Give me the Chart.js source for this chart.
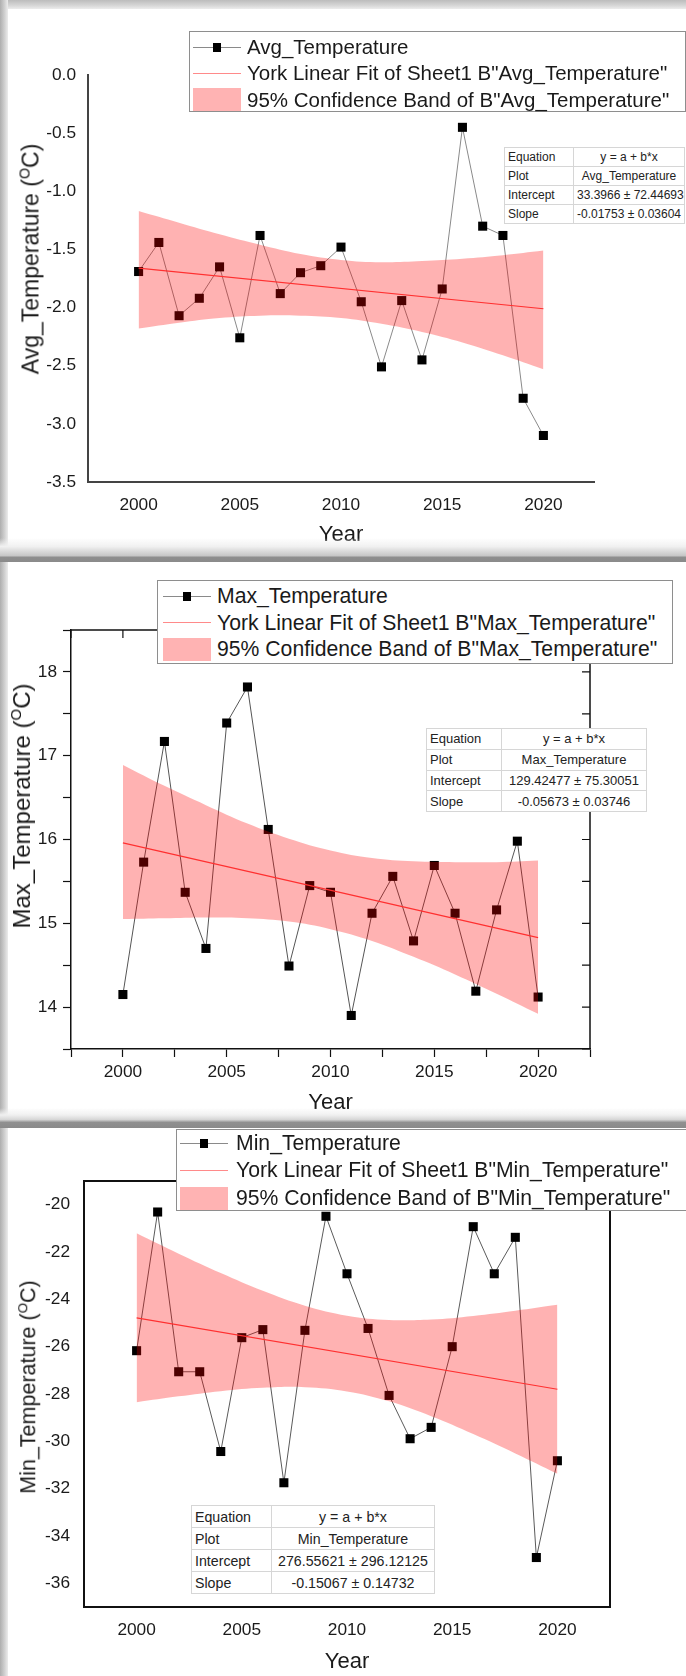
<!DOCTYPE html>
<html>
<head>
<meta charset="utf-8">
<title>Avg / Max / Min Temperature 2000-2020</title>
<script src="https://cdn.jsdelivr.net/npm/chart.js"></script>
<style>
  body { margin: 0; background: #fff; font-family: "Liberation Sans", Arial, sans-serif; color: #1a1a1a; }
  #page { position: relative; width: 686px; height: 1676px; overflow: hidden; background: #fff; }
  #page canvas { position: absolute; left: 0; }
  .ytitle { position: absolute; white-space: nowrap; line-height: 1; transform: translate(-50%, -50%) rotate(-90deg); }
  .ytitle .sup { font-size: 0.62em; position: relative; top: -0.6em; }
  .legend { position: absolute; background: #fff; border: 1px solid #8e8e8e; box-sizing: border-box; }
  .legend .txt { position: absolute; white-space: nowrap; height: 28px; line-height: 28px; }
  .legend .sym { position: absolute; }
  .fit-table { position: absolute; border-collapse: collapse; background: #fff; border: 1px solid #8e8e8e; table-layout: fixed; }
  .fit-table td { border: 1px solid #d6d6d6; padding: 0 3px; white-space: nowrap; overflow: hidden; color: #222; }
  .fit-table td.v { text-align: center; }
  .deco { position: absolute; z-index: 5; }
</style>
</head>
<body>
<div id="page"></div>
<script>
  // ---- data ----
  const years = [2000, 2001, 2002, 2003, 2004, 2005, 2006, 2007, 2008, 2009, 2010,
                 2011, 2012, 2013, 2014, 2015, 2016, 2017, 2018, 2019, 2020];
  const bandYears = [2000, 2002, 2004, 2006, 2008, 2010, 2012, 2014, 2016, 2018, 2020];
  const fitYears = [2000, 2020];
  const xTickLabels = [2000, 2005, 2010, 2015, 2020];

  const avgTemp = [-1.69, -1.44, -2.07, -1.92, -1.65, -2.26, -1.38, -1.88, -1.70, -1.64, -1.48,
                   -1.95, -2.51, -1.94, -2.45, -1.84, -0.45, -1.30, -1.38, -2.78, -3.10];
  const avgFit = [-1.66, -2.01];
  const avgBandUpper = [-1.17, -1.27, -1.37, -1.46, -1.54, -1.59, -1.61, -1.60, -1.58, -1.55, -1.51];
  const avgBandLower = [-2.18, -2.13, -2.09, -2.07, -2.07, -2.09, -2.14, -2.21, -2.30, -2.41, -2.53];
  const avgYTickLabels = [0.0, -0.5, -1.0, -1.5, -2.0, -2.5, -3.0, -3.5];
  const avgTable = [['Equation', 'y = a + b*x'], ['Plot', 'Avg_Temperature'],
                    ['Intercept', '33.3966 ± 72.44693'], ['Slope', '-0.01753 ± 0.03604']];

  const maxTemp = [14.15, 15.73, 17.17, 15.37, 14.70, 17.39, 17.82, 16.12, 14.49, 15.45, 15.37,
                   13.90, 15.12, 15.56, 14.79, 15.69, 15.12, 14.19, 15.16, 15.98, 14.12];
  const maxFit = [15.96, 14.83];
  const maxBandUpper = [16.89, 16.64, 16.41, 16.19, 16.01, 15.87, 15.78, 15.74, 15.73, 15.73, 15.75];
  const maxBandLower = [15.05, 15.06, 15.07, 15.06, 15.02, 14.93, 14.79, 14.60, 14.39, 14.16, 13.92];
  const maxYTickLabels = [14, 15, 16, 17, 18];
  const maxTable = [['Equation', 'y = a + b*x'], ['Plot', 'Max_Temperature'],
                    ['Intercept', '129.42477 ± 75.30051'], ['Slope', '-0.05673 ± 0.03746']];

  const minTemp = [-26.17, -20.31, -27.06, -27.06, -30.43, -25.62, -25.28, -31.75, -25.31, -20.49, -22.92,
                   -25.23, -28.06, -29.89, -29.41, -26.00, -20.93, -22.92, -21.38, -34.91, -30.82];
  const minFit = [-24.78, -27.80];
  const minBandUpper = [-21.21, -22.07, -22.89, -23.64, -24.27, -24.69, -24.87, -24.85, -24.70, -24.48, -24.23];
  const minBandLower = [-28.35, -28.10, -27.88, -27.74, -27.71, -27.89, -28.31, -28.94, -29.69, -30.51, -31.37];
  const minYTickLabels = [-20, -22, -24, -26, -28, -30, -32, -34, -36];
  const minTable = [['Equation', 'y = a + b*x'], ['Plot', 'Min_Temperature'],
                    ['Intercept', '276.55621 ± 296.12125'], ['Slope', '-0.15067 ± 0.14732']];

  const FONT = '"Liberation Sans", Arial, sans-serif';
  const BAND = 'rgba(255,0,0,0.30)';

  // page-coordinate layout of each panel
  const panels = [
    { name: 'Avg_Temperature', vals: avgTemp, fit: avgFit, up: avgBandUpper, lo: avgBandLower,
      yLabels: avgYTickLabels, fmt: v => v.toFixed(1), yMin: -3.5, yMax: 0, yStep: 0.5, table: avgTable,
      top: 0, h: 556, area: { l: 88, r: 594, t: 75, b: 482 }, lineColor: '#8a8a8a',
      axis: { color: '#444', width: 2, ticks: false, xPad: 13, yPad: 12, titlePad: 8 },
      frame: { box: false },
      ytitle: { x: 31, y: 259, font: 23 },
      legend: { l: 189, t: 31, w: 497, h: 81, rows: [46, 72, 98.5], sx: 192, tx: 246, font: 20.5 },
      tab: { l: 504, t: 147, w: 181, h: 76, c1: 62, font: 12 } },
    { name: 'Max_Temperature', vals: maxTemp, fit: maxFit, up: maxBandUpper, lo: maxBandLower,
      yLabels: maxYTickLabels, fmt: v => String(v), yMin: 13.5, yMax: 18.5, yStep: 0.5, table: maxTable,
      top: 562, h: 558, area: { l: 71, r: 590, t: 630, b: 1049 }, lineColor: '#555',
      axis: { color: '#111', width: 1.5, ticks: true, xPad: 5, yPad: 6, titlePad: 4 },
      frame: { box: true, color: '#111', width: 1.5, inner: true },
      ytitle: { x: 22, y: 806, font: 24 },
      legend: { l: 157, t: 580, w: 516, h: 84, rows: [595, 621.7, 648.3], sx: 162, tx: 216, font: 21.2 },
      tab: { l: 426, t: 728, w: 221, h: 83, c1: 68, font: 13 } },
    { name: 'Min_Temperature', vals: minTemp, fit: minFit, up: minBandUpper, lo: minBandLower,
      yLabels: minYTickLabels, fmt: v => String(v), yMin: -37, yMax: -19, yStep: 1, table: minTable,
      top: 1128, h: 548, area: { l: 84, r: 610, t: 1181, b: 1607 }, lineColor: '#5a5a5a',
      axis: { color: '#111', width: 2, ticks: false, xPad: 13, yPad: 14, titlePad: 1 },
      frame: { box: true, color: '#111', width: 2, inner: false },
      ytitle: { x: 29, y: 1387, font: 21.5 },
      legend: { l: 176, t: 1129, w: 512, h: 82, rows: [1142, 1169, 1197], sx: 179, tx: 235, font: 21.2 },
      tab: { l: 191, t: 1505, w: 244, h: 88, c1: 73, font: 14.2 } }
  ];

  // closes the box (top/right) and puts inward ticks on it
  const framePlugin = {
    id: 'frame',
    afterDatasetsDraw(chart, args, opts) {
      if (!opts.box) return;
      const { ctx, chartArea: a, scales } = chart;
      ctx.save();
      ctx.strokeStyle = opts.color;
      ctx.lineWidth = opts.width;
      ctx.beginPath();
      ctx.moveTo(a.left, a.top);
      ctx.lineTo(a.right, a.top);
      ctx.lineTo(a.right, a.bottom);
      ctx.stroke();
      if (opts.inner) {
        ctx.lineWidth = 1.2;
        ctx.beginPath();
        scales.x.ticks.forEach(t => {
          const px = scales.x.getPixelForValue(t.value);
          ctx.moveTo(px, a.top); ctx.lineTo(px, a.top + 8);
        });
        scales.y.ticks.forEach(t => {
          const py = scales.y.getPixelForValue(t.value);
          ctx.moveTo(a.right, py); ctx.lineTo(a.right - 8, py);
        });
        ctx.stroke();
      }
      ctx.restore();
    }
  };

  const page = document.getElementById('page');

  function el(tag, cls, css, html) {
    const e = document.createElement(tag);
    if (cls) e.className = cls;
    Object.assign(e.style, css || {});
    if (html !== undefined) e.innerHTML = html;
    page.appendChild(e);
    return e;
  }

  function pts(xs, ys) { return xs.map((x, i) => ({ x: x, y: ys[i] })); }

  panels.forEach(p => {
    const canvas = document.createElement('canvas');
    canvas.width = 686; canvas.height = p.h;
    canvas.style.top = p.top + 'px';
    page.appendChild(canvas);

    const areaTop = p.area.t - p.top;
    const areaBottom = p.area.b - p.top;
    const grid = {
      display: p.axis.ticks, drawOnChartArea: false, drawTicks: p.axis.ticks,
      tickLength: 8, tickColor: '#111', tickWidth: 1.2
    };

    new Chart(canvas, {
      type: 'line',
      data: {
        datasets: [
          { label: p.name, data: pts(years, p.vals), borderColor: p.lineColor, borderWidth: 1,
            pointStyle: 'rect', pointRadius: 6.4, pointBackgroundColor: '#000', pointBorderWidth: 0,
            order: 3 },
          { label: 'upper', data: pts(bandYears, p.up), borderColor: 'rgba(0,0,0,0)', borderWidth: 0,
            pointRadius: 0, fill: '+1', backgroundColor: BAND, tension: 0.4, order: 2 },
          { label: 'lower', data: pts(bandYears, p.lo), borderColor: 'rgba(0,0,0,0)', borderWidth: 0,
            pointRadius: 0, fill: false, tension: 0.4, order: 2 },
          { label: 'fit', data: pts(fitYears, p.fit), borderColor: '#ff3030', borderWidth: 1.2,
            pointRadius: 0, order: 1 }
        ]
      },
      options: {
        responsive: false, animation: false, devicePixelRatio: 1,
        layout: { padding: { left: 0, top: areaTop, right: 686 - p.area.r, bottom: 0 } },
        plugins: { legend: { display: false }, tooltip: { enabled: false }, frame: p.frame },
        scales: {
          x: {
            type: 'linear', min: 1997.5, max: 2022.5,
            afterFit: s => { s.height = p.h - areaBottom; },
            grid: grid,
            border: { display: true, color: p.axis.color, width: p.axis.width },
            ticks: {
              stepSize: 2.5, autoSkip: false, maxRotation: 0, padding: p.axis.xPad,
              color: '#1a1a1a', font: { family: FONT, size: 17.3 },
              callback: v => xTickLabels.includes(v) ? String(v) : ''
            },
            title: { display: true, text: 'Year', color: '#1a1a1a',
                     font: { family: FONT, size: 22 }, padding: { top: 0, bottom: p.axis.titlePad } }
          },
          y: {
            min: p.yMin, max: p.yMax,
            afterFit: s => { s.width = p.area.l; },
            grid: grid,
            border: { display: true, color: p.axis.color, width: p.axis.width },
            ticks: {
              stepSize: p.yStep, autoSkip: false, padding: p.axis.yPad,
              color: '#1a1a1a', font: { family: FONT, size: 17.3 },
              callback: v => p.yLabels.includes(v) ? p.fmt(v) : ''
            }
          }
        }
      },
      plugins: [framePlugin]
    });

    // y axis title with superscript O
    el('div', 'ytitle', { left: p.ytitle.x + 'px', top: p.ytitle.y + 'px', fontSize: p.ytitle.font + 'px' },
       p.name + ' (<span class="sup">O</span>C)');

    // legend
    const L = p.legend;
    const box = el('div', 'legend', { left: L.l + 'px', top: L.t + 'px', width: L.w + 'px', height: L.h + 'px' });
    const labels = [p.name, 'York Linear Fit of Sheet1 B"' + p.name + '"', '95% Confidence Band of B"' + p.name + '"'];
    labels.forEach((txt, i) => {
      const cy = L.rows[i] - L.t;
      const t = document.createElement('div');
      t.className = 'txt';
      Object.assign(t.style, { left: (L.tx - L.l) + 'px', top: (cy - 14) + 'px', fontSize: L.font + 'px' });
      t.textContent = txt;
      box.appendChild(t);
      const sx = L.sx - L.l;
      if (i === 0) {
        const ln = document.createElement('div');
        ln.className = 'sym';
        Object.assign(ln.style, { left: sx + 'px', top: (cy - 0.5) + 'px', width: '48px', height: '1px', background: '#8a8a8a' });
        box.appendChild(ln);
        const sq = document.createElement('div');
        sq.className = 'sym';
        Object.assign(sq.style, { left: (sx + 20) + 'px', top: (cy - 4.5) + 'px', width: '8px', height: '9px', background: '#000' });
        box.appendChild(sq);
      } else if (i === 1) {
        const ln = document.createElement('div');
        ln.className = 'sym';
        Object.assign(ln.style, { left: sx + 'px', top: (cy - 0.5) + 'px', width: '48px', height: '1px', background: '#ff8a8a' });
        box.appendChild(ln);
      } else {
        const rc = document.createElement('div');
        rc.className = 'sym';
        Object.assign(rc.style, { left: sx + 'px', top: (cy - 11.5) + 'px', width: '48px', height: '23px', background: '#ffb3b3' });
        box.appendChild(rc);
      }
    });

    // fit result table
    const T = p.tab;
    const rowH = (T.h / p.table.length).toFixed(2) + 'px';
    const rows = p.table.map(r =>
      '<tr style="height:' + rowH + '"><td style="width:' + T.c1 + 'px">' + r[0] + '</td><td class="v">' + r[1] + '</td></tr>').join('');
    el('table', 'fit-table', { left: T.l + 'px', top: T.t + 'px', width: T.w + 'px', height: T.h + 'px', fontSize: T.font + 'px' },
       '<tbody>' + rows + '</tbody>');
  });

  // screenshot-like grey frames between the panels
  el('div', 'deco', { left: '0px', top: '0px', width: '686px', height: '9px',
                      background: 'linear-gradient(#bcbcbc, #d6d6d6 60%, #ececec)' });
  el('div', 'deco', { left: '0px', top: '0px', width: '8px', height: '1676px',
                      background: 'linear-gradient(to right, #aeaeae, #cfcfcf 55%, #ececec)' });
  el('div', 'deco', { left: '0px', top: '538px', width: '686px', height: '24px',
                      background: 'linear-gradient(rgba(255,255,255,0), #f1f1f1 35%, #dadada 55%, #c6c6c6 74%, #8e8e8e 80%, #8a8a8a)' });
  el('div', 'deco', { left: '0px', top: '1108px', width: '686px', height: '20px',
                      background: 'linear-gradient(rgba(255,255,255,0), #f0f0f0 35%, #d6d6d6 58%, #909090 72%, #8a8a8a)' });
</script>
</body>
</html>
